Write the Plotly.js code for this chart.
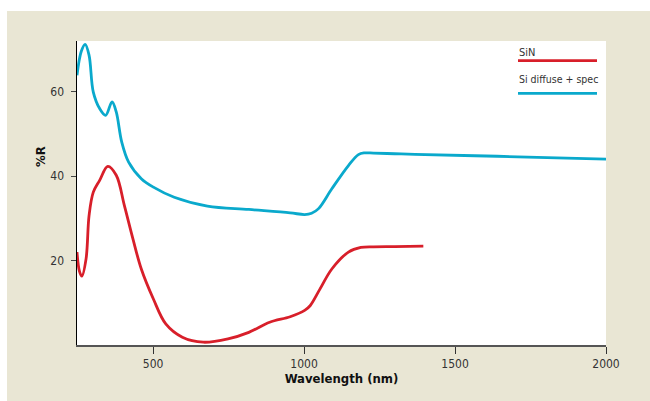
<!DOCTYPE html>
<html>
<head>
<meta charset="utf-8">
<script src="https://cdn.plot.ly/plotly-3.0.1.min.js"></script>
<style>html,body{margin:0;padding:0;background:#fff;}#chart{width:650px;height:401px;}</style>
</head>
<body>
<div id="chart"></div>
<script>
// Wavelength (nm) and %R
const siWavelength = [248, 262, 275, 288, 302, 323, 343, 364, 378, 396, 419, 461, 501, 570, 680, 817, 954, 1002, 1025, 1048, 1092, 1147, 1180, 1200, 1230, 1300, 1367, 1640, 2000];
const siReflectance = [63.9, 69.5, 71.2, 68.6, 59.9, 56.0, 54.4, 57.6, 55.2, 48.1, 43.3, 39.4, 37.4, 35.0, 32.9, 32.1, 31.3, 30.9, 31.2, 32.3, 37.0, 42.5, 45.1, 45.5, 45.45, 45.3, 45.15, 44.7, 44.0];

const sinWavelength = [248, 256, 264, 278, 288, 302, 323, 350, 378, 405, 433, 461, 501, 542, 597, 666, 748, 817, 886, 954, 1002, 1020, 1053, 1092, 1147, 1188, 1230, 1300, 1395];
const sinReflectance = [22.0, 17.5, 16.3, 20.4, 30.7, 36.2, 39.0, 42.3, 40.2, 33.0, 25.2, 18.0, 10.9, 5.0, 1.85, 0.66, 1.45, 3.0, 5.4, 6.7, 8.2, 9.3, 13.3, 18.0, 22.0, 23.1, 23.25, 23.3, 23.4];

const seriesNames = ["SiN", "Si diffuse + spec"];
const xTickVals = [500, 1000, 1500, 2000];
const yTickVals = [20, 40, 60];

const RED = "#d81f2a";
const BLUE = "#0aa9cc";
const BEIGE = "#e9e6d4";
const FONT = "'Liberation Sans Narrow', 'DejaVu Sans Condensed', 'Roboto', sans-serif";

const traces = [
  {x: sinWavelength, y: sinReflectance, name: seriesNames[0], mode: "lines",
   line: {color: RED, width: 2.8, shape: "spline", smoothing: 1}},
  {x: siWavelength, y: siReflectance, name: seriesNames[1], mode: "lines",
   line: {color: BLUE, width: 2.8, shape: "spline", smoothing: 1}}
];

const PX = v => (v - 77) / 529;
const PY = v => (345 - v) / 304;

const layout = {
  width: 650, height: 401,
  margin: {l: 77, r: 44, t: 41, b: 56, pad: 0},
  paper_bgcolor: "#ffffff",
  plot_bgcolor: "#ffffff",
  showlegend: false,
  font: {family: FONT, size: 12, color: "#333"},
  xaxis: {
    range: [248, 2000], tickvals: xTickVals, ticks: "outside", ticklen: 7, tickwidth: 1,
    tickcolor: "#333", showline: true, linecolor: "#555", linewidth: 1.5,
    showgrid: false, zeroline: false, tickfont: {size: 12, color: "#333", family: FONT},
    title: {text: "<b>Wavelength (nm)</b>", font: {size: 13, color: "#111", family: FONT}, standoff: 4}
  },
  yaxis: {
    range: [0, 72], tickvals: yTickVals, ticks: "outside", ticklen: 5, tickwidth: 1,
    tickcolor: "#444", showline: true, linecolor: "#000", linewidth: 1.5, ticklabelstandoff: 4,
    showgrid: false, zeroline: false, tickfont: {size: 12, color: "#333", family: FONT}
  },
  shapes: [
    {type: "rect", xref: "paper", yref: "paper", x0: PX(7), x1: PX(660), y0: PY(410), y1: PY(11),
     fillcolor: BEIGE, line: {width: 0}, layer: "below"},
    {type: "rect", xref: "paper", yref: "paper", x0: 0, x1: 1, y0: 0, y1: 1,
     fillcolor: "#ffffff", line: {width: 0}, layer: "below"},
    {type: "line", xref: "paper", yref: "paper", x0: PX(518), x1: PX(597),
     y0: PY(60.7), y1: PY(60.7), line: {color: RED, width: 2.8}},
    {type: "line", xref: "paper", yref: "paper", x0: PX(518), x1: PX(597),
     y0: PY(93.3), y1: PY(93.3), line: {color: BLUE, width: 2.8}}
  ],
  annotations: [
    {text: seriesNames[0], xref: "paper", yref: "paper", x: PX(517), y: PY(52),
     xanchor: "left", yanchor: "middle", showarrow: false, font: {size: 11, color: "#333", family: FONT}},
    {text: seriesNames[1], xref: "paper", yref: "paper", x: PX(517), y: PY(79),
     xanchor: "left", yanchor: "middle", showarrow: false, font: {size: 10.5, color: "#333", family: FONT}},
    {text: "<b>%R</b>", xref: "paper", yref: "paper", x: PX(40), y: PY(157), textangle: -90,
     xanchor: "center", yanchor: "middle", showarrow: false, font: {size: 13, color: "#111", family: FONT}}
  ]
};

Plotly.newPlot("chart", traces, layout, {displayModeBar: false, staticPlot: true});
</script>
</body>
</html>
